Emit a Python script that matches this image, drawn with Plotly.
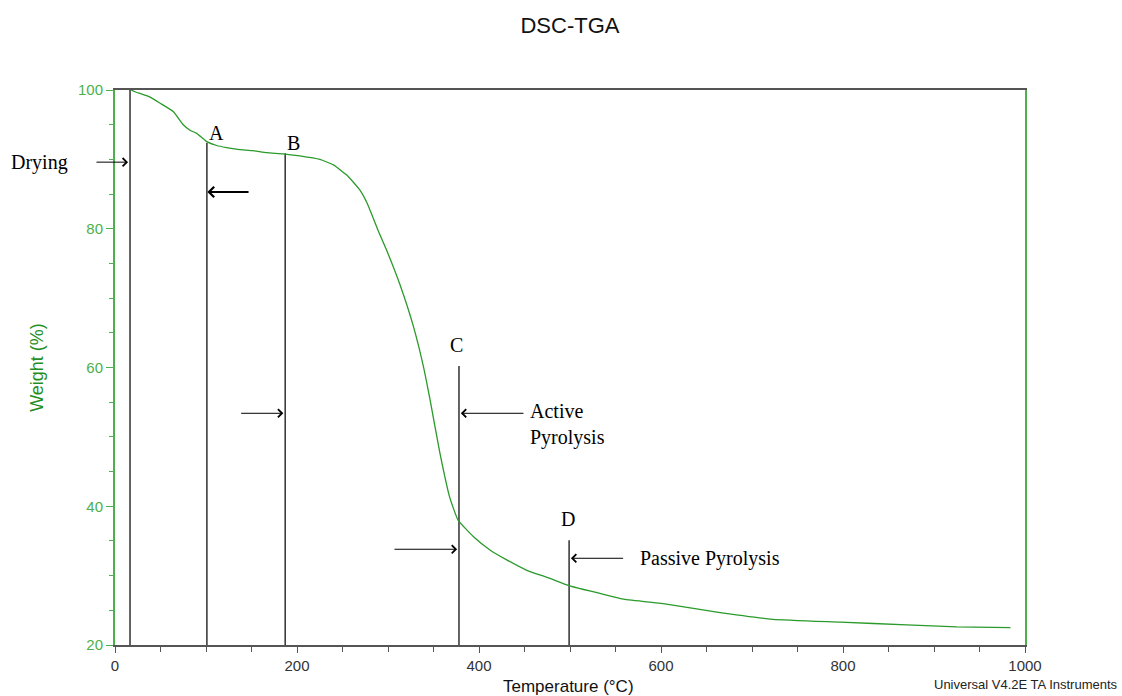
import plotly.graph_objects as go

# TGA curve (Temperature °C, Weight %)
temp = [17.6, 22, 38, 49.5, 64, 75, 82.4, 89.8, 100.8, 111.7, 122.7, 135, 151.6, 166.7,
        184.6, 203, 225, 240, 255, 269, 277, 289, 298.5, 313, 328, 339, 346, 357, 368, 377,
        394, 412, 430, 452, 478, 498, 515, 533, 559, 606, 658, 723, 797, 870, 925, 984]
weight = [100.0, 99.75, 99.0, 98.1, 96.9, 95.0, 94.2, 93.75, 92.55, 92.0, 91.7, 91.45, 91.25, 90.96,
          90.8, 90.5, 90.0, 89.2, 87.7, 85.6, 83.7, 79.8, 76.9, 72.0, 65.9, 60.1, 55.5, 47.7, 41.2, 38.0,
          35.6, 33.7, 32.3, 30.8, 29.6, 28.6, 28.0, 27.45, 26.6, 25.9, 24.8, 23.7, 23.3, 22.9, 22.6, 22.5]

# Stage marker lines
marker_temps = [16.5, 101, 187, 378, 499]
marker_tops = [100.3, 92.4, 90.9, 60.2, 35.1]
marker_labels = ["", "A", "B", "C", "D"]
label_temps = [0, 111, 195.6, 375.8, 497.8]
label_weights = [0, 93.8, 92.4, 63.2, 38.2]

# Arrows: (tip temp, tail temp, weight, width)
arrow_tips = [14.3, 101.5, 185, 380, 376, 501]
arrow_tails = [-22, 148.4, 137, 450.5, 305.5, 560]
arrow_weights = [89.6, 85.3, 53.4, 53.4, 33.8, 32.5]
arrow_widths = [1, 2, 1, 1, 1, 1]

# Stage texts
stage_texts = ["Drying", "Active<br>Pyrolysis", "Passive Pyrolysis"]
stage_x = [-83, 453.8, 574.7]
stage_y = [89.6, 51.75, 32.5]
stage_anchor = ["center", "left", "left"]

x_ticks = [0, 200, 400, 600, 800, 1000]
y_ticks = [20, 40, 60, 80, 100]

X_MIN, X_MAX = 0, 1000
Y_MIN, Y_MAX = 20, 100

GREEN_LINE = "#2a9a2a"
GREEN_AX = "#4cb04c"
GREEN_TITLE = "#1f8f1f"
SERIF = "Liberation Serif"
SANS = "Liberation Sans"

PLOT_W, PLOT_H = 910.0, 555.0

fig = go.Figure()

# vertical marker lines
vx, vy = [], []
for t, top in zip(marker_temps, marker_tops):
    vx += [t, t, None]
    vy += [Y_MIN, top, None]
fig.add_trace(go.Scatter(x=vx, y=vy, mode="lines", line=dict(color="#111111", width=1.3),
                         cliponaxis=False, hoverinfo="skip", showlegend=False))

fig.add_trace(go.Scatter(x=temp, y=weight, mode="lines",
                         line=dict(color=GREEN_LINE, width=1.3, shape="spline", smoothing=0.4),
                         showlegend=False))


def to_paper_x(v):
    return (v - X_MIN) / (X_MAX - X_MIN)


def to_paper_y(v):
    return (v - Y_MIN) / (Y_MAX - Y_MIN)


ann = []
for t_tip, t_tail, w, lw in zip(arrow_tips, arrow_tails, arrow_weights, arrow_widths):
    ann.append(dict(x=t_tip, y=w, ax=t_tail, ay=w, xref="x", yref="y", axref="x", ayref="y",
                    text="", showarrow=True, arrowhead=4, arrowsize=1.6 if lw == 1 else 1.0,
                    arrowwidth=lw, arrowcolor="#000000"))
for lab, lx, ly in zip(marker_labels, label_temps, label_weights):
    if lab:
        ann.append(dict(x=lx, y=ly, xref="x", yref="y", text=lab, showarrow=False,
                        xanchor="center", yanchor="middle",
                        font=dict(family=SERIF, size=20, color="#000000")))
for txt, sx, sy, anc in zip(stage_texts, stage_x, stage_y, stage_anchor):
    ann.append(dict(x=to_paper_x(sx), y=to_paper_y(sy), xref="paper", yref="paper", text=txt,
                    showarrow=False, xanchor=anc, yanchor="middle", align="left",
                    font=dict(family=SERIF, size=20, color="#000000")))
# footer credit
ann.append(dict(x=1.0 + (1120 - 1025) / PLOT_W, y=-(684 - 645) / PLOT_H, xref="paper", yref="paper",
                xanchor="right", yanchor="middle", text="Universal V4.2E TA Instruments",
                showarrow=False, font=dict(family=SANS, size=13, color="#222222")))
# x axis title
ann.append(dict(x=(568 - 115) / PLOT_W, y=-(686 - 645) / PLOT_H, xref="paper", yref="paper",
                xanchor="center", yanchor="middle", text="Temperature (°C)",
                showarrow=False, font=dict(family=SANS, size=17, color="#111111")))

fig.update_layout(
    width=1122, height=696,
    margin=dict(l=115, r=97, t=90, b=51, autoexpand=False),
    paper_bgcolor="white", plot_bgcolor="white",
    title=dict(text="DSC-TGA", x=0.508, xanchor="center", y=1 - 25 / 696, yanchor="middle",
               font=dict(family=SANS, size=22, color="#111111")),
    annotations=ann,
    xaxis=dict(range=[X_MIN, X_MAX], tickvals=x_ticks, ticks="outside", ticklen=6, tickcolor="#555555",
               minor=dict(dtick=50, ticks="outside", ticklen=5, tickcolor="#555555"),
               showline=True, linecolor="#555555", linewidth=2, mirror=True, showgrid=False,
               zeroline=False, automargin=False,
               tickfont=dict(family=SANS, size=15, color="#333333")),
    yaxis=dict(range=[Y_MIN, Y_MAX], tickvals=y_ticks, ticks="outside", ticklen=7, tickcolor=GREEN_AX,
               minor=dict(dtick=5, ticks="outside", ticklen=4, tickcolor=GREEN_AX),
               showline=True, linecolor=GREEN_AX, linewidth=2, mirror=True, showgrid=False,
               zeroline=False, automargin=False,
               tickfont=dict(family=SANS, size=15, color=GREEN_AX),
               title=dict(text="Weight (%)", standoff=30,
                          font=dict(family=SANS, size=18, color=GREEN_TITLE))),
)

fig.write_html("out.html", config=dict(displayModeBar=False),
               post_script="document.body.style.margin='0';document.body.style.overflow='hidden';")
